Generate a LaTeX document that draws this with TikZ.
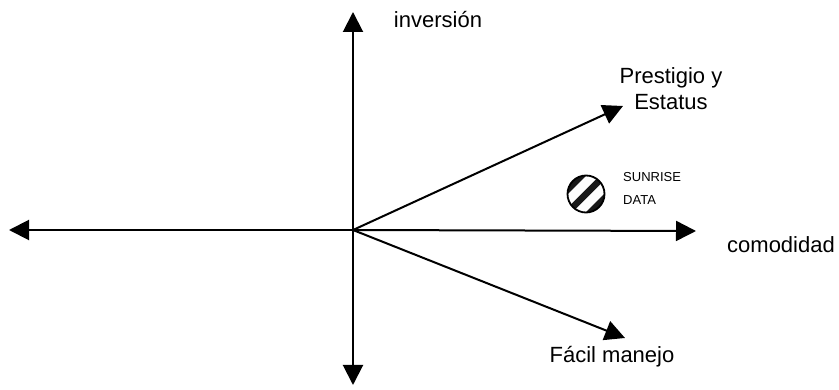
\documentclass[tikz,border=0pt]{standalone}
\usepackage{fontspec}
\setmainfont{Liberation Sans}
\usetikzlibrary{arrows.meta,calc}
\begin{document}
\begin{tikzpicture}[x=1pt,y=-1pt,
  axis/.style={line width=2pt,-{Triangle[length=20pt,width=20pt]}},
  lbl/.style={font=\fontsize{22}{26}\selectfont,inner sep=0pt,align=center},
  small/.style={font=\fontsize{13}{23}\selectfont,inner sep=0pt,align=left}]
\useasboundingbox (0,0) rectangle (839,390);
\coordinate (O) at (353,230);
\coordinate (T) at (353,12);
\coordinate (B) at (353,385);
\coordinate (L) at (9,230);
\coordinate (R) at (696,231);
\coordinate (P) at (623,106);
\coordinate (F) at (625,338);
\draw[axis] (O) -- (T);
\draw[axis] (O) -- (B);
\draw[axis] (O) -- (L);
\draw[axis] (O) -- (R);
\draw[axis] (O) -- (P);
\draw[axis] (O) -- (F);
\node[lbl] (inv) at (438,20) {inversión};
\node[lbl] (pres) at (671,89) {Prestigio y\\Estatus};
\node[lbl] (com) at (781,245) {comodidad};
\node[lbl] (fac) at (612,357) {Fácil manejo};
\node[small,anchor=west] (sun) at (623,188) {SUNRISE\\DATA};
\node[circle,minimum size=38pt,inner sep=0pt] (c) at (586,194) {};
\begin{scope}
\clip (c.center) circle (18.5pt);
\fill[white] (c.center) circle (18.5pt);
\foreach \d in {-16,0,16}{
  \draw[line width=6.5pt,black!90,line cap=butt]
    ($(c.center)+(\d*0.707,\d*0.707)+(-30,30)$) -- ($(c.center)+(\d*0.707,\d*0.707)+(30,-30)$);
}
\end{scope}
\draw[line width=1.8pt] (c.center) circle (18.5pt);
\end{tikzpicture}
\end{document}
